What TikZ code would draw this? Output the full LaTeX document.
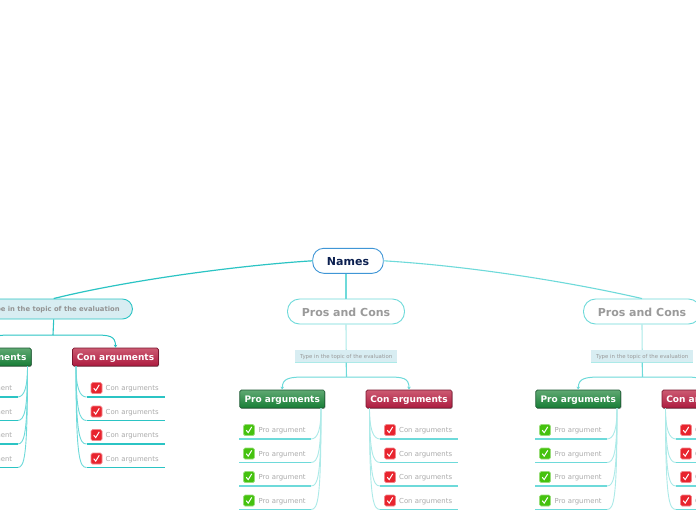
\documentclass[tikz,border=0pt]{standalone}
\usepackage{fontspec}
\setmainfont{DejaVu Sans}
\usetikzlibrary{arrows.meta,shadows,calc}
\definecolor{tealdark}{HTML}{2BC4C4}
\definecolor{teallight}{HTML}{6EDADA}
\definecolor{tealpale}{HTML}{ACEAE8}
\definecolor{navytext}{HTML}{0B1F4F}
\definecolor{greytitle}{HTML}{9A9A9A}
\definecolor{greyitem}{HTML}{ABABAB}
\definecolor{paleblue}{HTML}{D8EDF2}
\definecolor{rootline}{HTML}{3F96D6}
\definecolor{protop}{HTML}{5FA872}
\definecolor{probot}{HTML}{177E36}
\definecolor{proline}{HTML}{1D5A33}
\definecolor{contop}{HTML}{CC5A72}
\definecolor{conbot}{HTML}{AD1B3F}
\definecolor{conline}{HTML}{7A1730}
\definecolor{iconpro}{HTML}{45C20E}
\definecolor{iconcon}{HTML}{E8242E}
\tikzset{
  rootnode/.style={draw=rootline,line width=.9pt,rounded corners=11pt,fill=white,minimum width=70.5pt,minimum height=25pt,inner sep=0pt,text=navytext,text height=10.2pt,text depth=0pt,font=\fontsize{11}{12}\selectfont\bfseries},
  topnode/.style={draw=teallight,line width=.9pt,rounded corners=12pt,fill=white,minimum width=117pt,minimum height=25pt,inner sep=0pt,text=greytitle,text height=10.2pt,text depth=0pt,font=\fontsize{11}{12}\selectfont\bfseries},
  leftnode/.style={draw=tealdark,line width=.9pt,rounded corners=10pt,fill=paleblue,minimum width=157.5pt,minimum height=20pt,inner sep=0pt,text=gray!85,text height=6.5pt,text depth=.6pt,font=\fontsize{6.8}{8}\selectfont\bfseries},
  typenode/.style={fill=paleblue,minimum width=102pt,minimum height=12.5pt,inner sep=0pt,text=gray!80,text height=5.3pt,text depth=.2pt,font=\fontsize{5.4}{6}\selectfont},
  probox/.style={draw=proline,line width=.7pt,rounded corners=1.5pt,top color=protop,bottom color=probot,minimum width=85pt,minimum height=18pt,inner sep=0pt,text=white,text height=8pt,text depth=.7pt,font=\fontsize{9}{10}\selectfont\bfseries,drop shadow={shadow xshift=.6pt,shadow yshift=-.9pt,opacity=.35,fill=black}},
  conbox/.style={draw=conline,line width=.7pt,rounded corners=1.5pt,top color=contop,bottom color=conbot,minimum width=86pt,minimum height=18pt,inner sep=0pt,text=white,text height=8pt,text depth=.7pt,font=\fontsize{9}{10}\selectfont\bfseries,drop shadow={shadow xshift=.6pt,shadow yshift=-.9pt,opacity=.35,fill=black}},
  iconbox/.style={minimum size=11pt,inner sep=0pt,rounded corners=1.5pt,draw=#1!55!white,line width=.7pt,fill=#1},
  itemtext/.style={text=greyitem,inner sep=0pt,anchor=west,font=\fontsize{6.9}{8}\selectfont},
  tick/.style={draw=white,line width=1pt}
}
% #1 prefix, #2 dx, #3 dy, #4 rule colour, #5 curve colour
\newcommand{\argcolumn}[5]{
\begin{scope}[shift={(#2,#3)}]
  \node[probox] (#1pro) at (282.25,399) {Pro arguments};
  \node[conbox] (#1con) at (409,399) {Con arguments};
  \coordinate (#1fork) at (346.5,377);
  \draw[#4,line width=1.1pt] (#1type.south) -- (#1fork);
  \draw[#4,line width=1pt,-{Stealth[length=3pt,width=3.5pt]}] (#1fork) -- (305,377) .. controls (290,377) and (282.25,378) .. (#1pro.north);
  \draw[#4,line width=1pt,-{Stealth[length=3pt,width=3.5pt]}] (#1fork) -- (388,377) .. controls (403,377) and (409,378) .. (#1con.north);
  \coordinate (#1pa) at (321,408);
  \coordinate (#1ca) at (369.5,408);
  \foreach \n/\ya in {1/439,2/462.5,3/486,4/509.5}{
    \coordinate (#1pl\n) at (239,\ya);
    \coordinate (#1pr\n) at (311,\ya);
    \coordinate (#1cl\n) at (380,\ya);
    \coordinate (#1cr\n) at (458,\ya);
    \draw[#5,line width=.9pt] (#1pa) .. controls ($(#1pa)+(0,\ya-418)$) and (318,\ya) .. (#1pr\n);
    \draw[#5,line width=.9pt] (#1ca) .. controls ($(#1ca)+(0,\ya-418)$) and (373,\ya) .. (#1cl\n);
    \draw[#4,line width=1.2pt] (#1pl\n) -- (#1pr\n);
    \draw[#4,line width=1.2pt] (#1cl\n) -- (#1cr\n);
    \node[iconbox=iconpro] (#1pi\n) at (249,\ya-9) {};
    \draw[tick] ($(#1pi\n.center)+(-2.8,.2)$) -- ($(#1pi\n.center)+(-.8,2.6)$) -- ($(#1pi\n.center)+(2.8,-3.2)$);
    \node[itemtext] (#1pt\n) at (258.5,\ya-7.9) {Pro argument};
    \node[iconbox=iconcon] (#1ci\n) at (390,\ya-9) {};
    \draw[tick] ($(#1ci\n.center)+(-2.8,.2)$) -- ($(#1ci\n.center)+(-.8,2.6)$) -- ($(#1ci\n.center)+(2.8,-3.2)$);
    \node[itemtext] (#1ct\n) at (399,\ya-7.9) {Con arguments};
  }
\end{scope}}
\begin{document}
\begin{tikzpicture}[x=1pt,y=-1pt]
\useasboundingbox (0,0) rectangle (696,520);
\fill[white] (0,0) rectangle (696,520);
\node[rootnode] (root) at (348,260.8) {Names};
% left branch
\node[leftnode] (Ltype) at (53.7,309) {Type in the topic of the evaluation};
\draw[tealdark,line width=1.2pt] (root.west) .. controls (230,266) and (120,282) .. (Ltype.north);
\argcolumn{L}{-293.5}{-42}{tealdark}{teallight}
% middle branch
\node[topnode] (Mtop) at (346,311.5) {Pros and Cons};
\draw[teallight,line width=1.1pt] (root.south -| Mtop.north) -- (Mtop.north);
\node[typenode] (Mtype) at (346.2,356.2) {Type in the topic of the evaluation};
\draw[tealpale,line width=1.1pt] (Mtop.south) -- (Mtype.north);
\draw[tealpale,line width=1.4pt] (Mtype.south west) -- (Mtype.south east);
\argcolumn{M}{0}{0}{teallight}{tealpale}
% right branch
\node[topnode] (Rtop) at (642,311.5) {Pros and Cons};
\draw[teallight,line width=1.1pt] (root.east) .. controls (470,266) and (570,282) .. (Rtop.north);
\node[typenode] (Rtype) at (642.2,356.2) {Type in the topic of the evaluation};
\draw[tealpale,line width=1.1pt] (Rtop.south) -- (Rtype.north);
\draw[tealpale,line width=1.4pt] (Rtype.south west) -- (Rtype.south east);
\argcolumn{R}{296}{0}{teallight}{tealpale}
\end{tikzpicture}
\end{document}
